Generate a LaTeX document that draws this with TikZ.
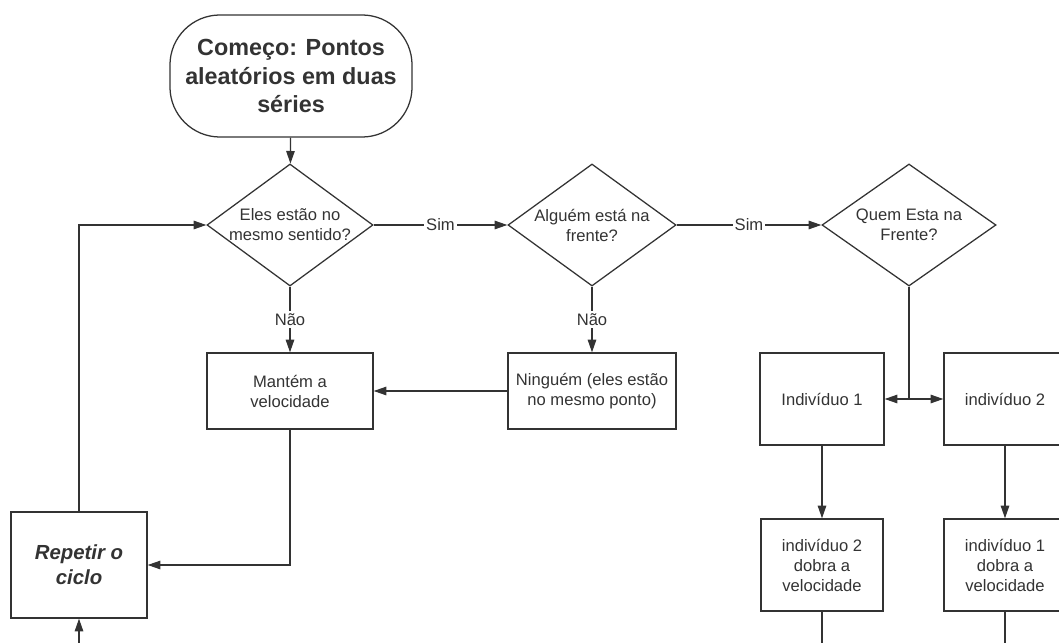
\documentclass[tikz,border=0pt]{standalone}
\usepackage{fontspec}
\setmainfont{Liberation Sans}
\usetikzlibrary{shapes.geometric, arrows.meta}

\definecolor{linegray}{HTML}{333333}

\tikzset{
    base/.style={draw=linegray, line width=0.9pt, text=linegray, font=\fontsize{11.8}{14.2}\selectfont, align=center, inner sep=0pt},
    startbox/.style={base, rectangle, rounded corners=1.25cm, minimum width=6.05cm, minimum height=3.05cm, font=\fontsize{16.6}{20.4}\selectfont\bfseries},
    decision/.style={base, diamond, minimum width=#1, minimum height=3.05cm},
    procbox/.style={base, rectangle},
    txt/.style={text=linegray, font=\fontsize{11.8}{14.2}\selectfont, align=center, inner sep=0pt},
    answer/.style={txt, fill=white, inner sep=1.5pt},
    link/.style={draw=linegray, line width=0.9pt, -{Triangle[length=9pt, width=6pt]}}
}

\begin{document}
\begin{tikzpicture}[x=0.025cm, y=-0.025cm]

        \clip (0,0) rectangle (1059,643);
        \useasboundingbox (0,0) rectangle (1059,643);

        \node[startbox] (start) at (291,76) {Começo: Pontos\\aleatórios em duas\\séries};

        \node[decision=4.15cm, label={[txt]center:{Eles estão no\\mesmo sentido?}}] (d1) at (290,225) {};
        \node[decision=4.2cm, label={[txt]center:{Alguém está na\\frente?}}] (d2) at (592,225) {};
        \node[decision=4.35cm, label={[txt]center:{Quem Esta na\\Frente?}}] (d3) at (909,225) {};

        \node[procbox, minimum width=4.15cm, minimum height=1.9cm] (mantem) at (290,391) {Mantém a\\velocidade};
        \node[procbox, minimum width=4.2cm, minimum height=1.9cm] (ninguem) at (592,391) {Ninguém (eles estão\\no mesmo ponto)};

        \node[procbox, minimum width=3.1cm, minimum height=2.3cm] (ind1) at (822,399) {Indivíduo 1};
        \node[procbox, minimum width=3.05cm, minimum height=2.3cm] (ind2) at (1005,399) {indivíduo 2};
        \node[procbox, minimum width=3.05cm, minimum height=2.3cm] (dobra2) at (822,565) {indivíduo 2\\dobra a\\velocidade};
        \node[procbox, minimum width=3.05cm, minimum height=2.3cm] (dobra1) at (1005,565) {indivíduo 1\\dobra a\\velocidade};

        \node[procbox, minimum width=3.4cm, minimum height=2.65cm, font=\fontsize{14.5}{18}\selectfont\bfseries\itshape] (repetir) at (79,565) {Repetir o\\ciclo};

        \coordinate (loopin) at (79,650);
        \coordinate (out2) at (822,650);
        \coordinate (out1) at (1005,650);

        % connectors
        \draw[link] (start) -- (d1);
        \draw[link] (d1.east) -- node[answer] (sim1) {Sim} (d2.west);
        \draw[link] (d2.east) -- node[answer] (sim2) {Sim} (d3.west);
        \draw[link] (d1.south) -- node[answer] (nao1) {Não} (mantem.north);
        \draw[link] (d2.south) -- node[answer] (nao2) {Não} (ninguem.north);
        \draw[link] (ninguem.west) -- (mantem.east);

        \draw[link] (d3.south) |- (ind1.east);
        \draw[link] (d3.south) |- (ind2.west);
        \draw[link] (ind1) -- (dobra2);
        \draw[link] (ind2) -- (dobra1);
        \draw[link, -] (dobra2) -- (out2);
        \draw[link, -] (dobra1) -- (out1);

        \draw[link] (mantem.south) |- (repetir.east);
        \draw[link] (repetir.north) |- (d1.west);
        \draw[link] (loopin) -- (repetir.south);
    \end{tikzpicture}
\end{document}
